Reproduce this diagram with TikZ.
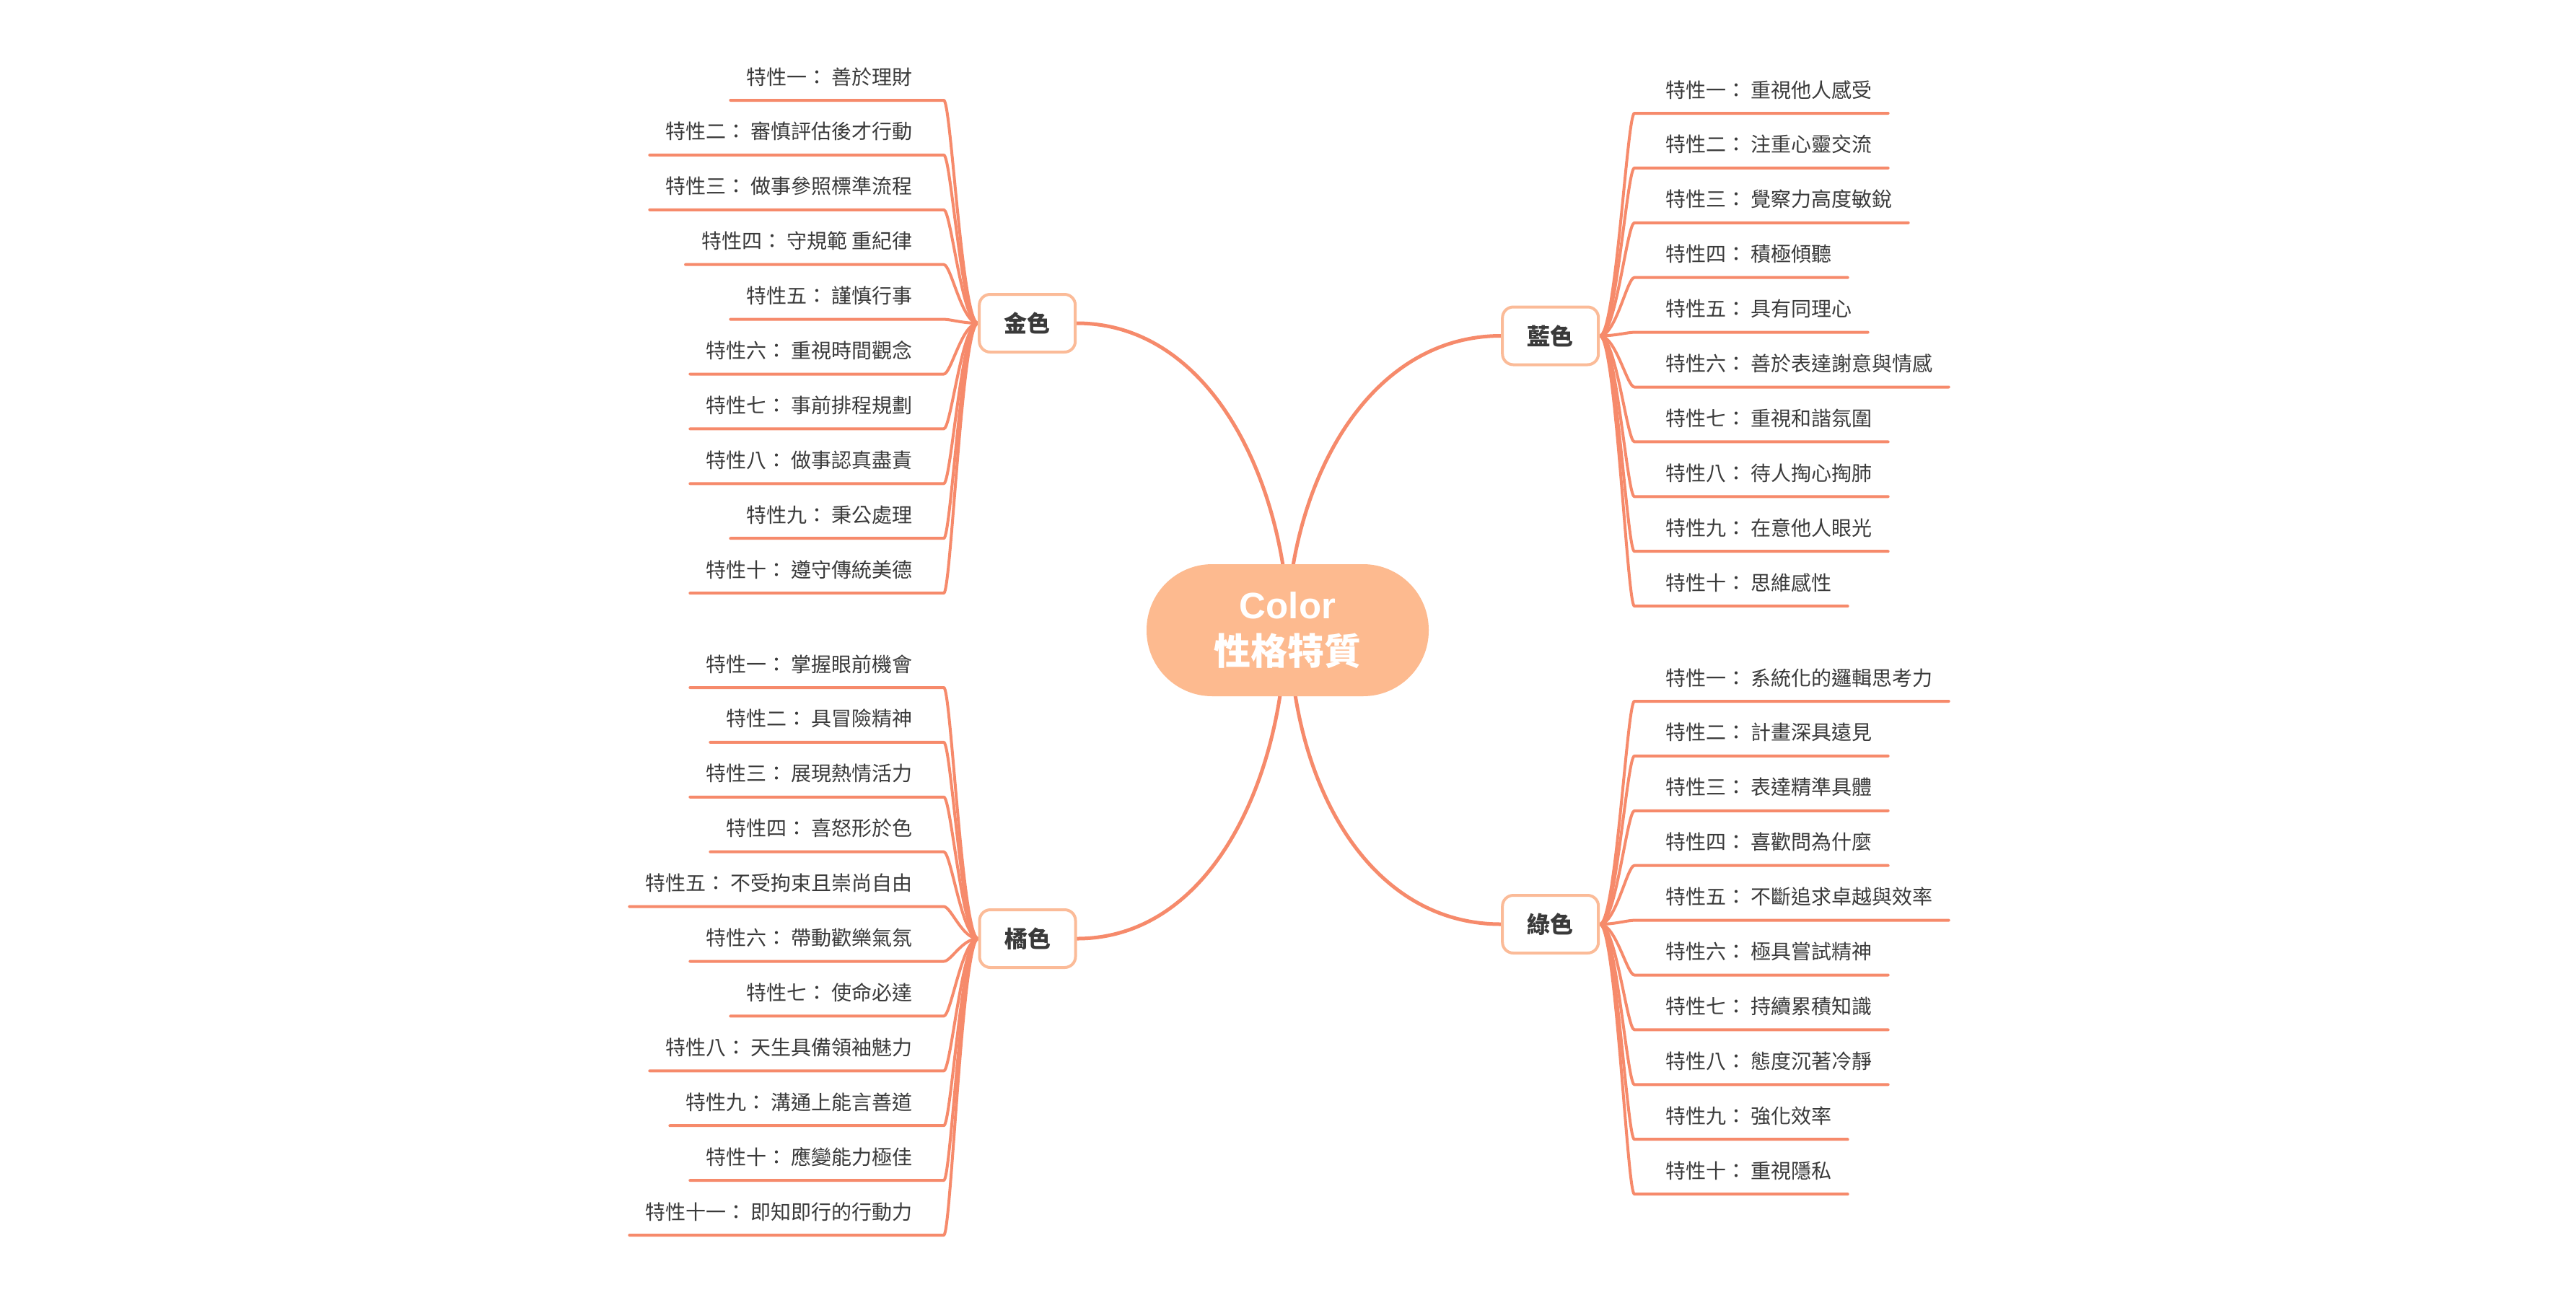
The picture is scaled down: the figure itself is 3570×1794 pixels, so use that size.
\documentclass[tikz,border=0pt]{standalone}
\usepackage{fontspec}
\usetikzlibrary{backgrounds,calc}
\newfontfamily\cjk{Noto Sans CJK TC}
\newfontfamily\arialfont{Liberation Sans}
\definecolor{linec}{HTML}{F68A6B}
\definecolor{bordc}{HTML}{FBBB98}
\definecolor{rootc}{HTML}{FDBA8F}
\definecolor{txtc}{HTML}{3A3A3A}
\tikzset{
  leaftext/.style={inner sep=0pt, text=txtc, font=\cjk\fontsize{28}{34}\selectfont},
  leafline/.style={draw=linec, line width=4pt, line cap=round, line join=round},
  mainline/.style={draw=linec, line width=5pt, line cap=round},
  branch/.style={draw=bordc, line width=4pt, fill=white, rounded corners=15pt,
    minimum width=133pt, minimum height=80pt, inner sep=0pt, text=txtc,
    font=\cjk\bfseries\fontsize{32}{38}\selectfont},
  rootnode/.style={fill=rootc, rounded corners=91pt, minimum width=391pt,
    minimum height=183pt, inner sep=0pt, text=white, align=center,
    font=\fontsize{51}{64}\selectfont}
}
\newcommand\leafL[4]{%
  \node[leaftext, anchor=base east] (#1) at (1265,#3-22) {#4};
  \begin{pgfonlayer}{background}
  \draw[leafline] (#2.west) .. controls +(-22,0) and (1318,#3) .. (1308,#3) -- ($(#1.base west)+(-22,22)$);
  \end{pgfonlayer}
}
\newcommand\leafR[4]{%
  \node[leaftext, anchor=base west] (#1) at (2308,#3-22) {#4};
  \begin{pgfonlayer}{background}
  \draw[leafline] (#2.east) .. controls +(22,0) and (2255,#3) .. (2265,#3) -- ($(#1.base east)+(22,22)$);
  \end{pgfonlayer}
}
\begin{document}
\begin{tikzpicture}[x=1pt,y=-1pt]
\useasboundingbox (0,0) rectangle (3570,1794);
\begin{pgfonlayer}{background}
\fill[white] (0,0) rectangle (3570,1794);
\end{pgfonlayer}

\node[rootnode] (root) at (1784.5,873.5) {{\arialfont\bfseries Color}\\{\cjk\bfseries 性格特質}};
\node[branch] (gold) at (1423.7,448) {金色};
\node[branch] (blue) at (2148.7,465.5) {藍色};
\node[branch] (orange) at (1424,1301) {橘色};
\node[branch] (green) at (2148.7,1281) {綠色};

\coordinate (rootTL) at (1779,790);
\coordinate (rootTR) at (1791,790);
\coordinate (rootBL) at (1775,957);
\coordinate (rootBR) at (1794,957);

\begin{pgfonlayer}{background}
\draw[mainline] (gold.east) .. controls (1649,448) and (1751,606) .. (rootTL);
\draw[mainline] (blue.west) .. controls (1922,465.5) and (1819,615) .. (rootTR);
\draw[mainline] (orange.east) .. controls (1649,1301) and (1748,1143) .. (rootBL);
\draw[mainline] (green.west) .. controls (1923,1281) and (1821,1138) .. (rootBR);
\end{pgfonlayer}

% gold
\leafL{g1}{gold}{139}{特性一： 善於理財}
\leafL{g2}{gold}{214.9}{特性二： 審慎評估後才行動}
\leafL{g3}{gold}{290.8}{特性三： 做事參照標準流程}
\leafL{g4}{gold}{366.7}{特性四： 守規範 重紀律}
\leafL{g5}{gold}{442.6}{特性五： 謹慎行事}
\leafL{g6}{gold}{518.5}{特性六： 重視時間觀念}
\leafL{g7}{gold}{594.4}{特性七： 事前排程規劃}
\leafL{g8}{gold}{670.3}{特性八： 做事認真盡責}
\leafL{g9}{gold}{746.2}{特性九： 秉公處理}
\leafL{g10}{gold}{822.1}{特性十： 遵守傳統美德}

% blue
\leafR{b1}{blue}{157}{特性一： 重視他人感受}
\leafR{b2}{blue}{232.9}{特性二： 注重心靈交流}
\leafR{b3}{blue}{308.8}{特性三： 覺察力高度敏銳}
\leafR{b4}{blue}{384.7}{特性四： 積極傾聽}
\leafR{b5}{blue}{460.6}{特性五： 具有同理心}
\leafR{b6}{blue}{536.5}{特性六： 善於表達謝意與情感}
\leafR{b7}{blue}{612.4}{特性七： 重視和諧氛圍}
\leafR{b8}{blue}{688.3}{特性八： 待人掏心掏肺}
\leafR{b9}{blue}{764.2}{特性九： 在意他人眼光}
\leafR{b10}{blue}{840.1}{特性十： 思維感性}

% orange
\leafL{o1}{orange}{953}{特性一： 掌握眼前機會}
\leafL{o2}{orange}{1028.9}{特性二： 具冒險精神}
\leafL{o3}{orange}{1104.8}{特性三： 展現熱情活力}
\leafL{o4}{orange}{1180.7}{特性四： 喜怒形於色}
\leafL{o5}{orange}{1256.6}{特性五： 不受拘束且崇尚自由}
\leafL{o6}{orange}{1332.5}{特性六： 帶動歡樂氣氛}
\leafL{o7}{orange}{1408.4}{特性七： 使命必達}
\leafL{o8}{orange}{1484.3}{特性八： 天生具備領袖魅力}
\leafL{o9}{orange}{1560.2}{特性九： 溝通上能言善道}
\leafL{o10}{orange}{1636.1}{特性十： 應變能力極佳}
\leafL{o11}{orange}{1712}{特性十一： 即知即行的行動力}

% green
\leafR{n1}{green}{972}{特性一： 系統化的邏輯思考力}
\leafR{n2}{green}{1047.9}{特性二： 計畫深具遠見}
\leafR{n3}{green}{1123.8}{特性三： 表達精準具體}
\leafR{n4}{green}{1199.7}{特性四： 喜歡問為什麼}
\leafR{n5}{green}{1275.6}{特性五： 不斷追求卓越與效率}
\leafR{n6}{green}{1351.5}{特性六： 極具嘗試精神}
\leafR{n7}{green}{1427.4}{特性七： 持續累積知識}
\leafR{n8}{green}{1503.3}{特性八： 態度沉著冷靜}
\leafR{n9}{green}{1579.2}{特性九： 強化效率}
\leafR{n10}{green}{1655.1}{特性十： 重視隱私}
\end{tikzpicture}
\end{document}
